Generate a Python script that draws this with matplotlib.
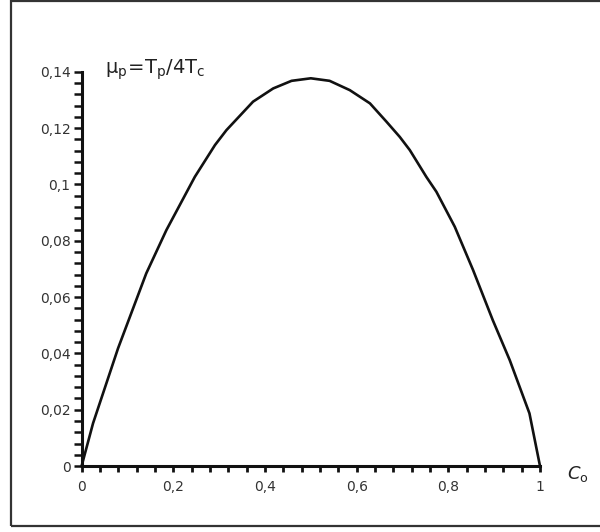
import matplotlib
matplotlib.use("Agg")
import matplotlib.pyplot as plt
from matplotlib.ticker import MultipleLocator, FixedLocator, FixedFormatter
from matplotlib.patches import Rectangle

# Data
c0 = [0.0, 0.025, 0.0795, 0.141, 0.185, 0.247, 0.291, 0.316, 0.374, 0.418, 0.458,
      0.50, 0.541, 0.585, 0.629, 0.665, 0.694, 0.716, 0.752, 0.774, 0.814, 0.854,
      0.897, 0.934, 0.977, 1.0]
mu_p = [0.0, 0.0152, 0.0418, 0.0684, 0.0838, 0.1027, 0.114, 0.1193, 0.1294, 0.1341, 0.1368,
        0.1377, 0.1368, 0.1335, 0.1288, 0.1223, 0.1169, 0.1122, 0.1027, 0.0974, 0.085, 0.0696,
        0.0518, 0.0376, 0.0187, 0.0]

x_ticks = [0, 0.2, 0.4, 0.6, 0.8, 1.0]
x_labels = ["0", "0,2", "0,4", "0,6", "0,8", "1"]
y_ticks = [0, 0.02, 0.04, 0.06, 0.08, 0.10, 0.12, 0.14]
y_labels = ["0", "0,02", "0,04", "0,06", "0,08", "0,1", "0,12", "0,14"]

plt.rcParams['font.family'] = ['DejaVu Sans']
fig = plt.figure(figsize=(6.0, 5.32), dpi=100)
ax = fig.add_axes([0.136, 0.124, 0.764, 0.741])

ax.plot(c0, mu_p, color="#111111", lw=1.9, clip_on=False, solid_joinstyle="round")
ax.set_xlim(0, 1)
ax.set_ylim(0, 0.14)

for s in ["top", "right"]:
    ax.spines[s].set_visible(False)
for s in ["left", "bottom"]:
    ax.spines[s].set_linewidth(2.2)
    ax.spines[s].set_color("#111111")

ax.xaxis.set_major_locator(FixedLocator(x_ticks))
ax.xaxis.set_major_formatter(FixedFormatter(x_labels))
ax.yaxis.set_major_locator(FixedLocator(y_ticks))
ax.yaxis.set_major_formatter(FixedFormatter(y_labels))
ax.xaxis.set_minor_locator(MultipleLocator(0.04))
ax.yaxis.set_minor_locator(MultipleLocator(0.004))

ax.tick_params(axis="both", which="both", direction="out", color="#111111",
               labelcolor="#333333", labelsize=10)
ax.tick_params(axis="x", which="both", length=4, width=2)
ax.tick_params(axis="y", which="both", length=6, width=1.8)
ax.tick_params(axis="x", which="major", pad=6)
ax.tick_params(axis="y", which="major", pad=2)

ax.text(0.05, 1.005, r"$\mathsf{\mu_p\!=\!T_p/4T_c}$", transform=ax.transAxes,
        fontsize=14, color="#222222", ha="left", va="center")
ax.text(1.058, -0.02, r"$\mathit{C}_\mathsf{o}$", transform=ax.transAxes,
        fontsize=13, color="#222222", ha="left", va="center")

frame = Rectangle((0.018, 0.011), 1.2, 0.987, transform=fig.transFigure,
                  fill=False, edgecolor="#333333", lw=1.6)
fig.patches.append(frame)

fig.savefig("out.png", dpi=100)
